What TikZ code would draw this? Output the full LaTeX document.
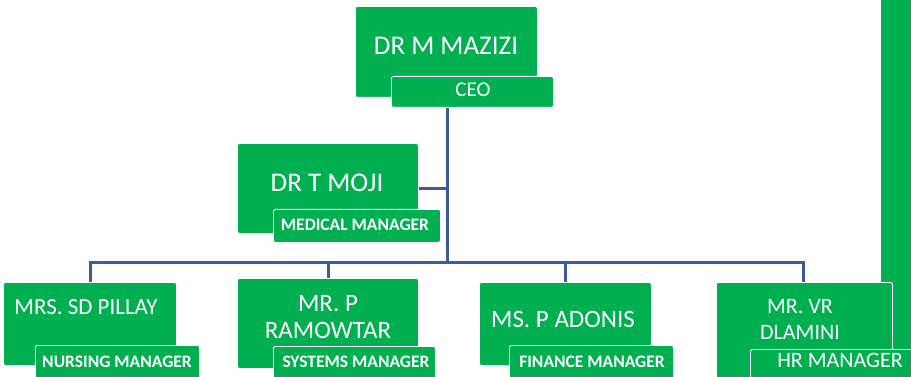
\documentclass[tikz,border=0pt]{standalone}
\usepackage{fontspec}
\setmainfont{Carlito}
\definecolor{boxgreen}{HTML}{00B050}
\definecolor{linkblue}{HTML}{3A5C9C}
\begin{document}
\begin{tikzpicture}[x=1pt,y=-1pt,
  card/.style={fill=boxgreen,draw=white,line width=0.9pt,rounded corners=2pt,
    inner sep=0pt,anchor=north west},
  tag/.style={fill=boxgreen,draw=white,line width=0.9pt,rounded corners=2pt,
    inner sep=0pt,anchor=north west},
  person/.style={text=white,inner sep=0pt,align=center},
  role/.style={text=white,inner sep=0pt,font=\bfseries\fontsize{17.5}{19}\selectfont},
  link/.style={draw=linkblue,line width=3pt}]
\useasboundingbox (0,0) rectangle (911,377);

% green side bar on the right
\fill[boxgreen] (880,-5) rectangle (920,385);
\draw[white,line width=0.9pt] (880,-5) -- (880,385);

% connector bus
\coordinate (bus) at (447,262);
\coordinate (busL) at (90,262);
\coordinate (busR) at (803,262);
\coordinate (busM1) at (328,262);
\coordinate (busM2) at (565,262);

% CEO
\node[card,minimum width=182pt,minimum height=91pt] (ceo) at (355,6) {};
\node[tag,minimum width=162pt,minimum height=31pt] (ceot) at (391,76) {};

% Medical manager
\node[card,minimum width=181pt,minimum height=90pt] (moji) at (237,143) {};
\node[tag,minimum width=167pt,minimum height=33pt] (mojit) at (273,209) {};

% Bottom row
\node[card,minimum width=173pt,minimum height=83pt] (pil) at (3,282) {};
\node[tag,minimum width=164pt,minimum height=40pt] (pilt) at (35,345) {};
\node[card,minimum width=181pt,minimum height=90pt] (ram) at (237,278) {};
\node[tag,minimum width=162pt,minimum height=39pt] (ramt) at (273,346) {};
\node[card,minimum width=172pt,minimum height=83pt] (ado) at (479,282) {};
\node[tag,minimum width=164pt,minimum height=40pt] (adot) at (509,345) {};
\node[card,minimum width=176pt,minimum height=105pt] (dla) at (716,282) {};
\node[tag,minimum width=175pt,minimum height=40pt] (dlat) at (750,349) {};

% connectors
\draw[link] (ceot.south -| bus) -- (bus);
\draw[link] (moji.east) -- (moji.east -| bus);
\draw[link,line join=miter] (pil.north -| busL) -- (busL) -- (busR) -- (dla.north -| busR);
\draw[link] (ram.north -| busM1) -- (busM1);
\draw[link] (ado.north -| busM2) -- (busM2);

% texts
\node[person,font=\fontsize{27}{30}\selectfont] (ceoN) at (446,46) {DR M MAZIZI};
\node[person,font=\fontsize{21}{24}\selectfont] (ceoR) at (473,90) {CEO};
\node[person,font=\fontsize{27}{30}\selectfont] (mojiN) at (327,183) {DR T MOJI};
\node[role] (mojiR) at (355,225) {MEDICAL MANAGER};
\node[person,font=\fontsize{23}{26}\selectfont] (pilN) at (86,307) {MRS. SD PILLAY};
\node[role] (pilR) at (117,362) {NURSING MANAGER};
\node[person,font=\fontsize{25}{27}\selectfont] (ramN) at (328,317) {MR. P\\RAMOWTAR};
\node[role] (ramR) at (356,362) {SYSTEMS MANAGER};
\node[person,font=\fontsize{25}{27}\selectfont] (adoN) at (563,319) {MS. P ADONIS};
\node[role] (adoR) at (592,362) {FINANCE MANAGER};
\node[person,font=\fontsize{22}{26}\selectfont] (dlaN) at (800,319) {MR. VR\\DLAMINI};
\node[person,font=\fontsize{22}{24}\selectfont] (dlaR) at (840,360) {HR MANAGER};
\end{tikzpicture}
\end{document}
